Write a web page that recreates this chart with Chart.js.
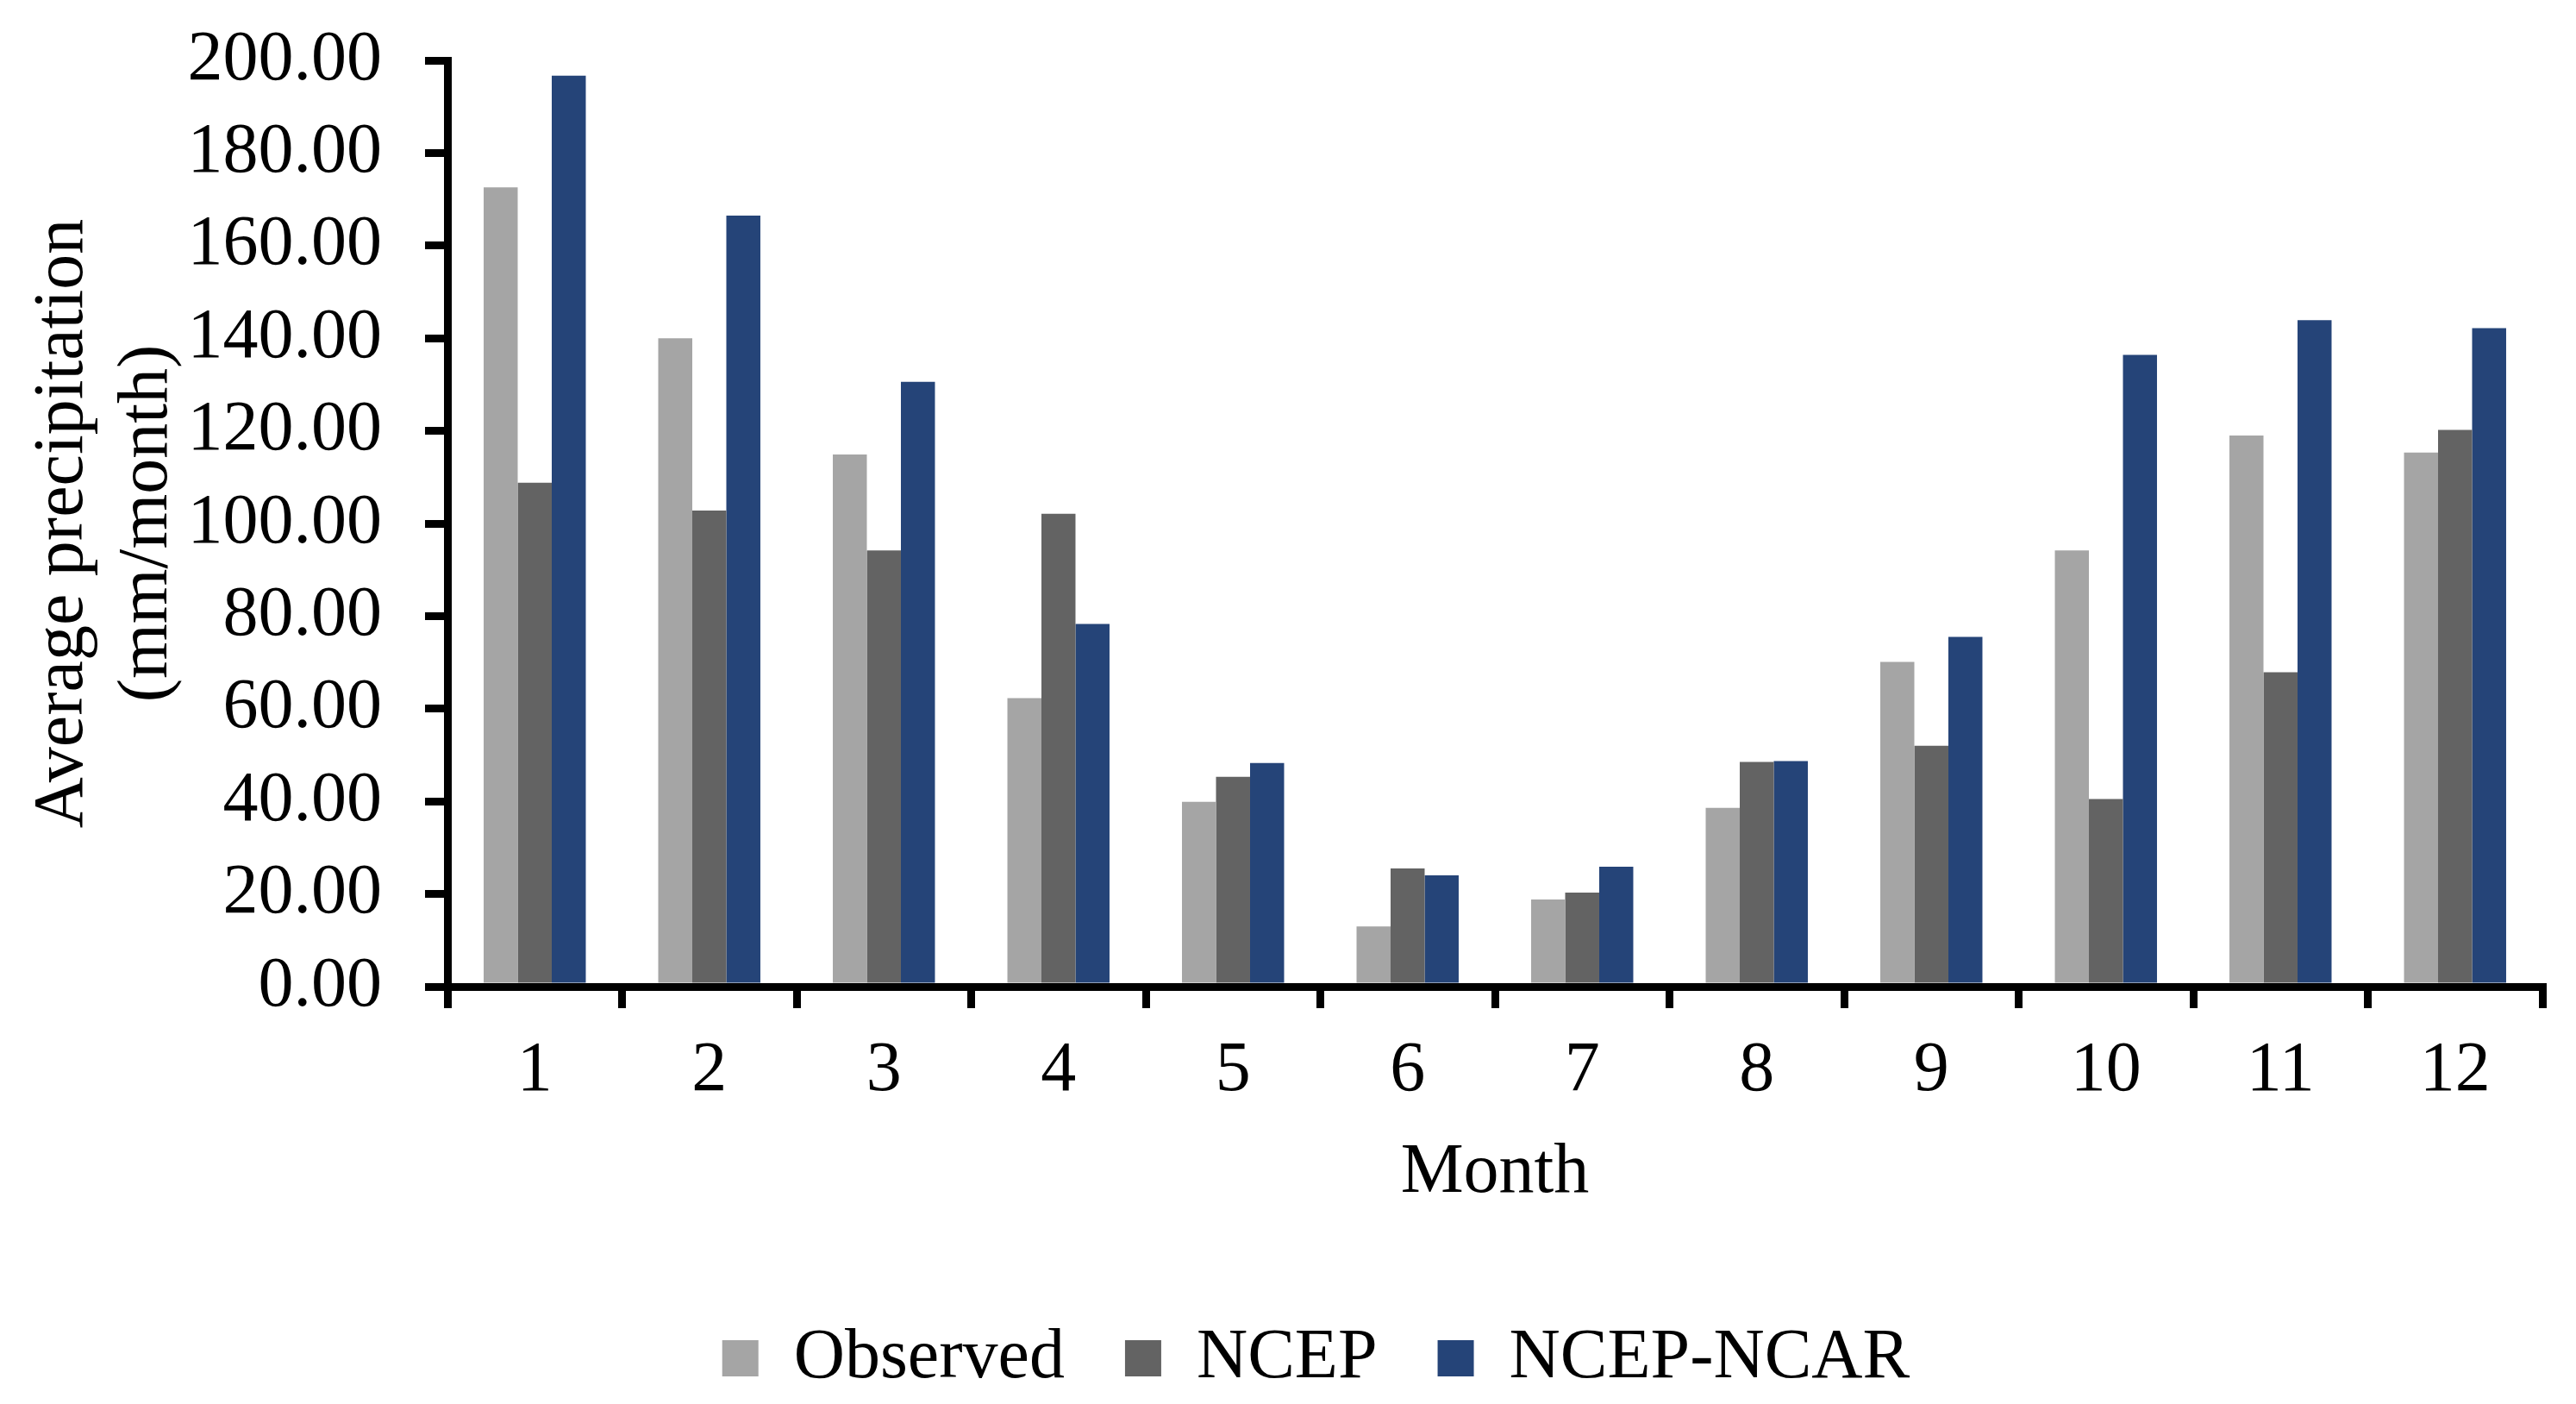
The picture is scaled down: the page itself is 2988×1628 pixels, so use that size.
<!DOCTYPE html>
<html>
<head>
<meta charset="utf-8">
<script src="https://cdn.jsdelivr.net/npm/chart.js@4.4.1/dist/chart.umd.min.js"></script>
<style>
  html, body { margin: 0; padding: 0; background: #fff; }
  canvas { display: block; }
</style>
</head>
<body>
<canvas id="chart" width="2988" height="1628"></canvas>
<script>
// months on the x axis
const months = ['1', '2', '3', '4', '5', '6', '7', '8', '9', '10', '11', '12'];

// average precipitation, mm/month
const observed = [172.6, 140.0, 114.9, 62.3, 39.9, 13.0, 18.8, 38.6, 70.1, 94.2, 119.0, 115.3];
const ncep     = [108.8, 102.8, 94.2, 102.1, 45.3, 25.5, 20.3, 48.5, 52.0, 40.5, 67.9, 120.2];
const ncepNcar = [196.7, 166.5, 130.6, 78.3, 48.3, 24.0, 25.9, 48.7, 75.5, 136.4, 143.9, 142.2];

const yTitle = ['Average precipitation', '(mm/month)'];
const xTitle = 'Month';

const colors = {
    observed: '#a5a5a5',
    ncep: '#636363',
    ncepNcar: '#254478',
};

Chart.defaults.font.family = '"Liberation Serif", "Times New Roman", serif';
Chart.defaults.color = '#000';

const fontSize = 82;

// the legend in the original sits a bit right of the canvas centre
const legendShift = {
    id: 'legendShift',
    afterLayout(chart) {
        chart.legend.left += 52;
        chart.legend.right += 52;
    },
};

const canvas = document.querySelector('#chart');
const chart = new Chart(canvas, {
    type: 'bar',
    data: {
        labels: months,
        datasets: [
            { label: 'Observed', data: observed, backgroundColor: colors.observed },
            { label: 'NCEP', data: ncep, backgroundColor: colors.ncep },
            { label: 'NCEP-NCAR', data: ncepNcar, backgroundColor: colors.ncepNcar },
        ],
    },
    plugins: [legendShift],
    options: {
        responsive: false,
        devicePixelRatio: 1,
        animation: false,
        datasets: {
            bar: { categoryPercentage: 0.585, barPercentage: 1.0, borderWidth: 0 },
        },
        layout: {
            padding: { left: 0, right: 39, top: 70, bottom: 2 },
        },
        plugins: {
            tooltip: { enabled: false },
            legend: {
                position: 'bottom',
                labels: {
                    font: { size: fontSize },
                    boxWidth: 42,
                    boxHeight: 42,
                    padding: 70,
                    color: '#000',
                },
            },
        },
        scales: {
            x: {
                grid: {
                    offset: true,
                    drawOnChartArea: false,
                    drawTicks: true,
                    tickLength: 25,
                    lineWidth: 9,
                    color: '#000',
                },
                border: { display: true, width: 9, color: '#000' },
                ticks: { font: { size: fontSize }, padding: 24, maxRotation: 0 },
                title: {
                    display: true,
                    text: xTitle,
                    font: { size: fontSize },
                    padding: { top: 0, bottom: 54 },
                },
                afterFit(scale) {
                    scale.height = 320;
                },
            },
            y: {
                min: 0,
                max: 200,
                grid: {
                    drawOnChartArea: false,
                    drawTicks: true,
                    tickLength: 26,
                    lineWidth: 9,
                    color: '#000',
                },
                border: { display: true, width: 9, color: '#000' },
                ticks: {
                    stepSize: 20,
                    padding: 50,
                    font: { size: fontSize },
                    callback: (v) => Number(v).toFixed(2),
                },
                title: {
                    display: true,
                    text: yTitle,
                    font: { size: fontSize },
                    padding: { top: 24, bottom: 0 },
                },
                afterFit(scale) {
                    scale.width = 519;
                    // the large label padding should not push the plot down
                    scale.paddingTop = 0;
                    scale.paddingBottom = 0;
                },
            },
        },
    },
});
</script>
</body>
</html>
